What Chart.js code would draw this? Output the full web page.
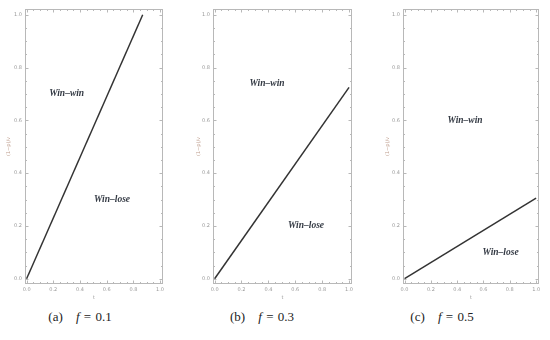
<!doctype html>
<html lang="en">
<head>
    <meta charset="utf-8">
    <title>Win-win / Win-lose regions</title>
    <script src="https://cdn.jsdelivr.net/npm/chart.js"></script>
    <style>
        body { margin: 0; background: #fff; }
        .wrap { position: relative; width: 550px; height: 340px; }
        .panel { position: absolute; top: 0; height: 305px; }
        .caption {
            position: absolute; top: 309px; width: 160px; text-align: center;
            font-family: "Liberation Serif", "DejaVu Serif", serif; font-size: 13px; color: #222;
            word-spacing: 1px;
        }
        .caption i { margin-left: 9px; }
    </style>
</head>
<body>
<div class="wrap">
    <div class="panel" style="left:0;width:180px"><canvas id="chartA"></canvas></div>
    <div class="panel" style="left:190px;width:180px"><canvas id="chartB"></canvas></div>
    <div class="panel" style="left:379px;width:171px"><canvas id="chartC"></canvas></div>
    <div class="caption" style="left:0">(a) <i>f</i> = 0.1</div>
    <div class="caption" style="left:182px">(b) <i>f</i> = 0.3</div>
    <div class="caption" style="left:362px">(c) <i>f</i> = 0.5</div>
</div>
<script>
    // boundary line t -> (1-p)/v for each f
    const lineA = [{ x: 0, y: 0 }, { x: 0.87, y: 1.0 }];
    const lineB = [{ x: 0, y: 0 }, { x: 1.0, y: 0.725 }];
    const lineC = [{ x: 0, y: 0 }, { x: 1.0, y: 0.305 }];

    const regionNames = ['Win\u2013win', 'Win\u2013lose'];
    const labelPosA = [{ x: 0.30, y: 0.70 }, { x: 0.64, y: 0.30 }];
    const labelPosB = [{ x: 0.39, y: 0.74 }, { x: 0.68, y: 0.20 }];
    const labelPosC = [{ x: 0.46, y: 0.60 }, { x: 0.73, y: 0.10 }];

    const tickValues = [0, 0.2, 0.4, 0.6, 0.8, 1.0];

    const frameColor = '#b8b8b8';
    const labelColor = '#999';

    // frame with inward major/minor ticks on all sides + region labels
    const framePlugin = {
        id: 'frame',
        afterDraw(chart, args, opts) {
            const { ctx, chartArea: a, scales } = chart;
            ctx.save();
            ctx.strokeStyle = frameColor;
            ctx.lineWidth = 1;
            ctx.strokeRect(a.left + 0.5, a.top + 0.5, a.right - a.left - 1, a.bottom - a.top - 1);
            ctx.beginPath();
            for (let i = 0; i <= 20; i++) {
                const v = i * 0.05;
                const len = i % 4 === 0 ? 3.5 : 2;
                const px = Math.round(scales.x.getPixelForValue(v)) + 0.5;
                const py = Math.round(scales.y.getPixelForValue(v)) + 0.5;
                ctx.moveTo(px, a.bottom); ctx.lineTo(px, a.bottom - len);
                ctx.moveTo(px, a.top); ctx.lineTo(px, a.top + len);
                ctx.moveTo(a.left, py); ctx.lineTo(a.left + len, py);
                ctx.moveTo(a.right, py); ctx.lineTo(a.right - len, py);
            }
            ctx.stroke();

            ctx.fillStyle = '#353b45';
            ctx.font = 'italic bold 9.5px "Liberation Serif", "DejaVu Serif", serif';
            ctx.textAlign = 'center';
            ctx.textBaseline = 'middle';
            opts.positions.forEach((p, i) => {
                ctx.fillText(regionNames[i], scales.x.getPixelForValue(p.x), scales.y.getPixelForValue(p.y));
            });
            ctx.restore();
        }
    };

    function makeChart(id, points, positions, axisWidth, rightPad) {
        const setTicks = scale => { scale.ticks = tickValues.map(v => ({ value: v })); };
        return new Chart(document.getElementById(id), {
            type: 'scatter',
            data: {
                datasets: [{
                    data: points,
                    showLine: true,
                    borderColor: '#333',
                    borderWidth: 1.5,
                    pointRadius: 0
                }]
            },
            options: {
                responsive: true,
                maintainAspectRatio: false,
                animation: false,
                layout: { padding: { top: 9, right: rightPad, left: 0, bottom: 0 } },
                plugins: {
                    legend: { display: false },
                    tooltip: { enabled: false },
                    frame: { positions: positions }
                },
                scales: {
                    x: {
                        type: 'linear', min: -0.012, max: 1.022,
                        afterBuildTicks: setTicks,
                        afterFit: s => { s.height = 21; },
                        grid: { drawOnChartArea: false, drawTicks: false },
                        border: { display: false },
                        ticks: {
                            padding: 3, color: labelColor,
                            font: { size: 5, family: 'DejaVu Sans' },
                            callback: v => v.toFixed(1)
                        },
                        title: {
                            display: true, text: 't', color: labelColor,
                            font: { size: 5, family: 'DejaVu Sans' },
                            padding: { top: 2, bottom: 4 }
                        }
                    },
                    y: {
                        type: 'linear', min: -0.02, max: 1.022,
                        afterBuildTicks: setTicks,
                        afterFit: s => { s.width = axisWidth; },
                        grid: { drawOnChartArea: false, drawTicks: false },
                        border: { display: false },
                        ticks: {
                            padding: 3, color: labelColor,
                            font: { size: 5, family: 'DejaVu Sans' },
                            callback: v => v.toFixed(1)
                        },
                        title: {
                            display: true, text: '(1\u2212p)/v', color: '#c0a090',
                            font: { size: 5, family: 'DejaVu Sans' },
                            padding: { top: 6, bottom: 0 }
                        }
                    }
                }
            },
            plugins: [framePlugin]
        });
    }

    makeChart('chartA', lineA, labelPosA, 25, 17);
    makeChart('chartB', lineB, labelPosB, 23, 18);
    makeChart('chartC', lineC, labelPosC, 24, 11);
</script>
</body>
</html>
